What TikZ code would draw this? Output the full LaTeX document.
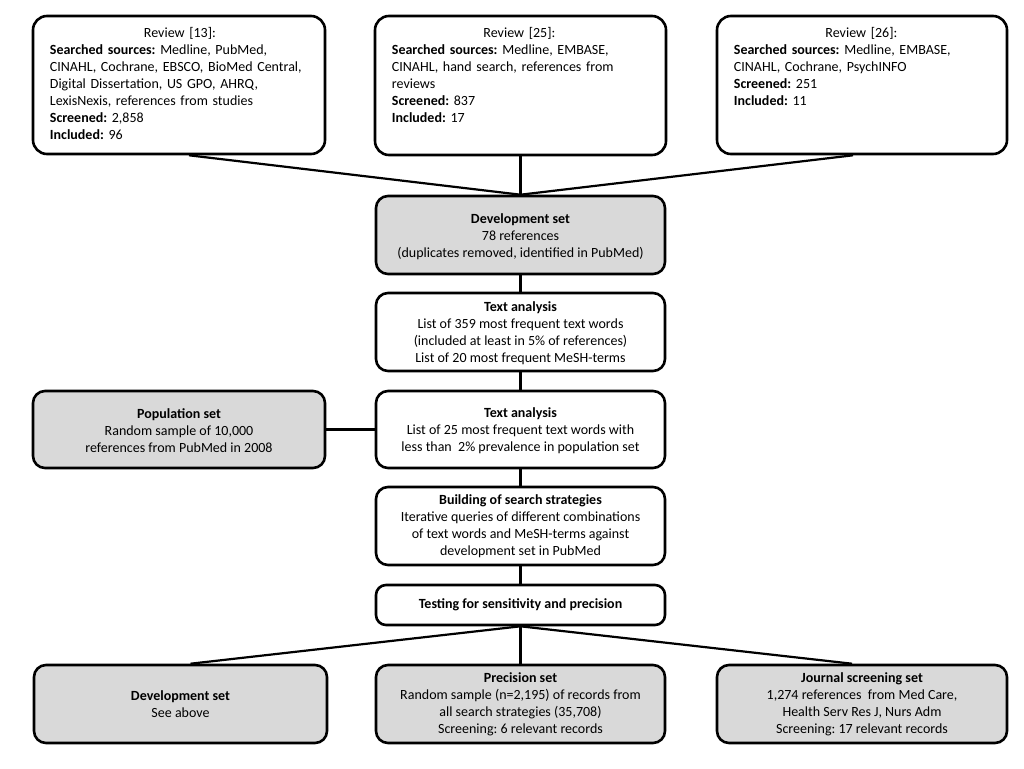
\documentclass[tikz,border=0pt]{standalone}
\usepackage{fontspec}
\setmainfont{Carlito}
\begin{document}
\frenchspacing
\begin{tikzpicture}[x=1pt,y=-1pt,
  every node/.style={font=\fontsize{14}{17}\selectfont},
  box/.style={draw=black, line width=2.6pt, rounded corners=14pt, fill=white, inner sep=0pt},
  gbox/.style={box, fill=black!15},
  txt/.style={align=center, inner sep=0pt},
  ltxt/.style={align=left, inner sep=0pt, text width=260pt, anchor=north west},
  conn/.style={line width=2.2pt}
]
\useasboundingbox (0,0) rectangle (1024,768);
\fill[white] (0,0) rectangle (1024,768);

% boxes
\node[box, minimum width=292pt, minimum height=138pt] (r13) at (179,85) {};
\node[box, minimum width=291pt, minimum height=139pt] (r25) at (520.5,85.5) {};
\node[box, minimum width=290pt, minimum height=138pt] (r26) at (862,85) {};
\node[gbox, rounded corners=12pt, minimum width=289pt, minimum height=78pt] (dev) at (520.5,235) {};
\node[box, rounded corners=12pt, minimum width=289pt, minimum height=78pt] (ta1) at (520.5,332) {};
\node[box, rounded corners=12pt, minimum width=289pt, minimum height=77pt] (ta2) at (520.5,429.5) {};
\node[gbox, rounded corners=12pt, minimum width=292pt, minimum height=77pt] (pop) at (179,429.5) {};
\node[box, rounded corners=12pt, minimum width=289pt, minimum height=78pt] (build) at (520.5,526) {};
\node[box, rounded corners=10pt, minimum width=289pt, minimum height=40pt] (test) at (520.5,605) {};
\node[gbox, rounded corners=12pt, minimum width=293pt, minimum height=78pt] (bdev) at (180.5,704) {};
\node[gbox, rounded corners=12pt, minimum width=289pt, minimum height=78pt] (prec) at (520.5,704) {};
\node[gbox, rounded corners=12pt, minimum width=290pt, minimum height=78pt] (jour) at (862,704) {};

% connectors
\draw[conn] ([xshift=10pt]r13.south) -- (dev.north);
\draw[conn] (r25.south) -- (dev.north);
\draw[conn] ([xshift=-9pt]r26.south) -- (dev.north);
\draw[conn] (dev.south) -- (ta1.north);
\draw[conn] (ta1.south) -- (ta2.north);
\draw[conn] (pop.east) -- (ta2.west);
\draw[conn] (ta2.south) -- (build.north);
\draw[conn] (build.south) -- (test.north);
\draw[conn] (test.south) -- ([xshift=10pt]bdev.north);
\draw[conn] (test.south) -- (prec.north);
\draw[conn] (test.south) -- ([xshift=-10pt]jour.north);

% texts top
\node[ltxt] (t13) at ([xshift=18pt,yshift=-12pt]r13.north west) {\makebox[260pt]{Review [13]:}\\
\textbf{Searched sources:} Medline, PubMed,\\
CINAHL, Cochrane, EBSCO, BioMed Central,\\
Digital Dissertation, US GPO, AHRQ,\\
LexisNexis, references from studies\\
\textbf{Screened:} 2,858\\
\textbf{Included:} 96};
\node[ltxt] (t25) at ([xshift=18pt,yshift=-12pt]r25.north west) {\makebox[255pt]{Review [25]:}\\
\textbf{Searched sources:} Medline, EMBASE,\\
CINAHL, hand search, references from\\
reviews\\
\textbf{Screened:} 837\\
\textbf{Included:} 17};
\node[ltxt] (t26) at ([xshift=18pt,yshift=-12pt]r26.north west) {\makebox[255pt]{Review [26]:}\\
\textbf{Searched sources:} Medline, EMBASE,\\
CINAHL, Cochrane, PsychINFO\\
\textbf{Screened:} 251\\
\textbf{Included:} 11};

\node[txt] (tdev) at ([yshift=-2pt]dev.center) {\textbf{Development set}\\78 references\\(duplicates removed, identified in PubMed)};
\node[txt] (tta1) at ([yshift=-1pt]ta1.center) {\textbf{Text analysis}\\List of 359 most frequent text words\\(included at least in 5\% of references)\\List of 20 most frequent MeSH-terms};
\node[txt] (tta2) at ([yshift=-1pt]ta2.center) {\textbf{Text analysis}\\List of 25 most frequent text words with\\less than\ \ 2\% prevalence in population set};
\node[txt] (tpop) at ([yshift=-1pt]pop.center) {\textbf{Population set}\\Random sample of 10,000\\references from PubMed in 2008};
\node[txt] (tbuild) at (build) {\textbf{Building of search strategies}\\Iterative queries of different combinations\\of text words and MeSH-terms against\\development set in PubMed};
\node[txt] (ttest) at (test) {\textbf{Testing for sensitivity and precision}};
\node[txt] (tbdev) at (bdev) {\textbf{Development set}\\See above};
\node[txt] (tprec) at (prec) {\textbf{Precision set}\\Random sample (n=2,195) of records from\\all search strategies (35,708)\\Screening: 6 relevant records};
\node[txt] (tjour) at (jour) {\textbf{Journal screening set}\\1,274 references\ \ from Med Care,\\Health Serv Res J, Nurs Adm\\Screening: 17 relevant records};
\end{tikzpicture}
\end{document}
